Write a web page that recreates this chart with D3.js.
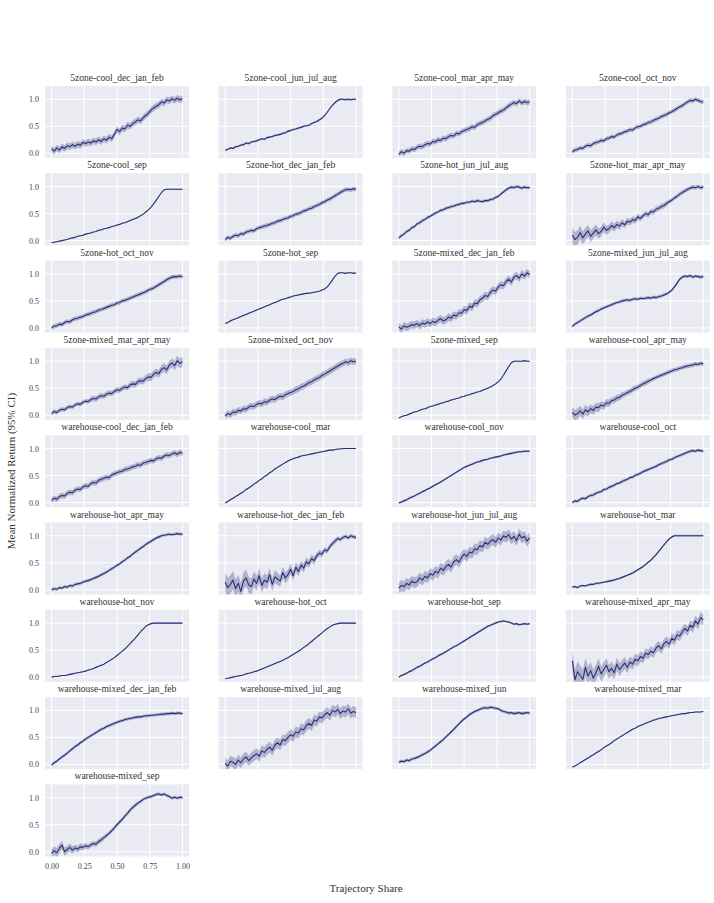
<!DOCTYPE html>
<html>
<head>
<meta charset="utf-8">
<script src="https://cdn.jsdelivr.net/npm/d3@7"></script>
<style>
body { margin: 0; background: #fff; }
text { font-family: "Liberation Serif", "DejaVu Serif", serif; }
</style>
</head>
<body>
<div id="chart"></div>
<script>
// panel titles in grid order (4 per row)
var panelNames = [
    "5zone-cool_dec_jan_feb", "5zone-cool_jun_jul_aug", "5zone-cool_mar_apr_may", "5zone-cool_oct_nov",
    "5zone-cool_sep", "5zone-hot_dec_jan_feb", "5zone-hot_jun_jul_aug", "5zone-hot_mar_apr_may",
    "5zone-hot_oct_nov", "5zone-hot_sep", "5zone-mixed_dec_jan_feb", "5zone-mixed_jun_jul_aug",
    "5zone-mixed_mar_apr_may", "5zone-mixed_oct_nov", "5zone-mixed_sep", "warehouse-cool_apr_may",
    "warehouse-cool_dec_jan_feb", "warehouse-cool_mar", "warehouse-cool_nov", "warehouse-cool_oct",
    "warehouse-hot_apr_may", "warehouse-hot_dec_jan_feb", "warehouse-hot_jun_jul_aug", "warehouse-hot_mar",
    "warehouse-hot_nov", "warehouse-hot_oct", "warehouse-hot_sep", "warehouse-mixed_apr_may",
    "warehouse-mixed_dec_jan_feb", "warehouse-mixed_jul_aug", "warehouse-mixed_jun", "warehouse-mixed_mar",
    "warehouse-mixed_sep"
];

// mean normalized return (x100), read at trajectory share 0, 0.02, ... 1.00
var meanReturns = [
    [8,4,10,6,12,9,14,12,16,13,17,15,20,18,21,19,23,21,25,22,27,24,30,27,35,44,40,47,45,52,50,55,58,62,60,66,70,74,80,84,87,90,95,93,99,97,101,98,102,99,101],
    [6,7,10,9,12,13,15,16,19,18,21,22,23,25,27,26,29,30,31,33,34,35,37,38,41,42,44,45,47,48,50,51,52,55,57,59,62,65,70,76,83,89,94,98,100,100,99,100,99,100,100],
    [-2,3,0,5,4,8,7,11,13,12,16,18,17,22,21,25,24,28,27,31,33,32,37,36,40,42,44,46,49,48,53,55,57,60,63,65,70,72,75,78,80,84,88,91,94,92,97,93,96,94,95],
    [3,6,7,10,9,13,15,14,18,20,21,24,23,27,28,31,30,34,36,37,40,41,44,43,47,49,50,53,54,57,58,61,63,65,68,70,72,75,77,80,83,86,88,92,95,98,97,100,98,96,95],
    [-4,-3,-2,-1,0,1,2,4,5,6,8,9,10,12,13,14,16,17,19,20,22,23,24,26,27,29,30,32,33,35,37,39,41,43,46,49,53,57,62,68,75,82,89,94,95,95,95,95,95,95,95],
    [2,6,4,8,10,9,13,12,16,17,19,18,22,24,25,27,28,30,32,33,36,37,39,41,42,45,46,49,50,52,55,56,59,60,63,65,67,70,72,75,77,80,83,86,89,92,94,95,94,96,95],
    [5,9,12,17,19,24,26,31,33,37,39,43,45,48,51,53,56,57,60,61,63,64,66,67,69,69,71,71,73,72,74,73,72,74,74,76,77,80,82,86,90,94,97,99,98,100,99,97,99,98,98],
    [10,2,6,15,5,12,18,8,14,20,13,17,25,19,22,28,24,30,27,33,29,36,34,39,37,44,41,46,50,48,54,53,58,60,63,65,69,72,75,79,82,86,89,92,95,97,99,98,100,98,99],
    [0,3,4,7,6,10,12,11,15,17,18,20,21,24,25,27,29,30,33,34,36,38,40,42,43,46,47,50,51,53,55,57,59,61,63,65,67,70,72,74,77,80,83,86,89,92,94,95,95,96,95],
    [8,10,13,15,17,19,21,23,25,27,29,31,33,35,37,39,41,43,45,47,49,51,53,54,56,57,59,60,61,62,63,64,64,65,66,67,68,70,72,76,82,89,96,101,102,102,101,102,102,101,102],
    [2,-2,4,1,3,6,5,8,4,9,7,11,8,12,10,14,17,13,15,20,18,24,22,28,27,34,32,40,38,46,45,52,55,60,58,66,70,68,76,80,78,86,90,85,94,97,92,100,96,102,99],
    [3,7,10,13,16,19,22,24,27,30,32,35,37,39,41,43,45,47,48,50,51,52,51,53,54,53,55,54,55,56,55,57,56,58,59,61,63,66,70,76,83,90,94,96,95,97,94,96,95,94,95],
    [3,7,5,9,11,10,14,16,15,19,21,20,24,26,25,29,31,30,34,36,35,39,41,40,44,47,46,50,52,51,56,58,57,62,64,63,68,71,70,76,79,77,85,88,84,93,97,92,101,96,99],
    [-1,3,1,6,5,9,8,12,11,15,17,16,20,22,21,25,24,28,30,29,33,35,34,38,40,42,44,47,49,52,54,57,60,62,65,68,70,74,76,79,82,85,88,91,94,96,99,97,101,99,100],
    [-5,-3,-1,0,2,4,6,7,9,11,12,14,16,17,19,20,22,23,25,26,28,29,31,32,34,35,37,38,40,41,43,44,46,48,50,52,55,58,62,67,74,82,90,97,100,100,100,100,101,100,100],
    [5,0,3,8,2,10,6,12,9,15,14,19,17,23,22,27,28,32,33,37,39,42,44,47,50,52,55,58,60,63,65,68,70,72,74,76,78,80,82,84,85,87,88,90,91,92,93,95,94,96,95],
    [4,8,6,11,13,12,17,19,18,23,25,24,29,31,30,35,37,36,41,43,45,47,46,51,53,55,57,58,61,62,64,66,67,70,69,73,74,76,78,77,81,83,82,86,88,87,90,92,89,93,91],
    [-1,2,5,8,11,14,17,20,24,27,30,34,37,41,44,48,51,55,58,62,65,68,71,74,77,79,81,83,84,86,87,88,89,90,91,92,93,94,95,96,97,97,98,99,99,100,100,100,100,100,100],
    [-1,1,3,5,8,10,12,15,17,20,22,25,27,30,33,35,38,41,44,47,50,53,56,59,62,65,67,69,71,73,75,76,78,79,80,82,83,84,85,86,88,89,90,91,92,93,94,94,95,95,95],
    [0,3,2,6,8,7,11,13,14,17,19,20,24,25,28,30,32,35,36,39,41,43,46,47,50,52,54,57,59,61,63,65,67,70,72,74,76,79,80,83,85,87,89,91,93,95,96,95,97,96,95],
    [0,2,1,4,3,6,5,8,7,10,11,12,14,16,17,19,21,23,25,28,30,33,36,39,42,45,48,52,55,59,62,66,70,73,77,80,84,87,90,93,96,98,100,101,102,103,102,103,104,103,103],
    [14,4,10,18,2,12,-3,16,22,9,6,20,12,26,8,18,14,28,10,24,20,16,32,22,28,38,26,42,34,46,40,52,48,58,54,63,68,66,74,72,80,86,90,95,93,97,99,96,100,98,97],
    [3,8,6,12,9,16,13,15,22,18,25,22,30,27,34,31,40,36,43,47,42,52,56,51,60,66,62,70,68,76,74,82,79,88,84,90,93,88,96,92,100,97,102,94,99,91,103,96,99,90,96],
    [5,6,4,7,8,7,9,10,10,12,12,13,14,15,16,17,18,20,21,23,25,27,29,31,34,37,40,43,47,51,55,60,65,71,77,83,89,94,98,100,100,100,100,100,100,100,100,100,100,100,100],
    [0,1,1,2,3,3,4,5,6,7,8,9,10,11,13,14,16,18,20,22,24,27,30,33,36,40,44,48,52,57,62,67,72,78,84,89,94,97,99,100,100,100,100,100,100,100,100,100,100,100,100],
    [-3,-2,-1,0,1,2,3,4,6,7,8,10,11,13,15,17,19,21,23,25,27,29,31,34,36,39,42,45,48,51,55,58,62,66,70,74,78,82,86,90,93,96,98,99,100,100,100,100,100,100,100],
    [0,3,5,7,10,12,15,18,20,23,26,28,31,34,36,39,42,44,47,50,53,56,58,61,64,67,70,73,76,79,82,85,88,91,94,96,98,100,102,103,104,103,102,100,98,99,97,98,99,98,99],
    [30,-5,10,3,-4,18,2,12,-2,8,20,6,14,22,10,16,8,24,14,20,26,18,28,24,33,30,38,35,44,42,48,45,54,58,52,62,66,61,72,68,78,76,84,90,85,96,92,104,98,110,106],
    [-1,3,6,10,14,17,21,25,29,33,36,40,43,47,50,53,56,59,62,65,67,70,72,74,76,78,80,81,83,84,85,86,87,88,88,89,90,90,91,91,92,92,93,93,94,94,95,94,95,95,94],
    [2,-3,6,4,0,8,3,10,14,7,12,16,20,15,25,22,28,32,26,36,40,36,46,44,50,55,52,60,58,66,64,72,76,72,82,80,88,86,92,96,91,100,97,102,94,99,97,103,95,98,96],
    [4,6,5,8,7,10,11,13,15,18,20,23,26,30,34,38,42,46,51,55,60,65,70,75,80,84,88,92,95,98,100,102,104,105,104,106,105,104,103,100,98,97,95,96,94,95,96,94,95,96,95],
    [-5,-3,0,3,6,9,12,15,18,21,24,27,31,34,37,40,44,47,50,53,56,59,62,65,67,70,72,74,76,78,80,82,83,85,86,87,88,89,90,91,92,93,94,94,95,96,96,97,97,97,98],
    [-3,2,-2,6,12,0,4,8,3,7,5,9,8,11,9,13,15,14,19,22,26,30,34,39,44,50,55,60,66,71,77,82,86,90,93,97,99,101,102,104,106,107,105,107,104,102,99,101,99,101,100]
];

// half width of the 95% CI (x100); a single number means constant along the curve
var ciHalf = [
    6, 2, 5, 4, 1, 4, 3,
    [14,14,13,13,12,12,11,11,10,10,9,9,9,8,8,8,7,7,7,7,6,6,6,6,6,6,5,5,5,5,5,5,5,5,5,5,5,4,4,4,4,4,4,4,4,4,4,4,4,4,4],
    4, 1, 7, 3,
    [4,4,4,4,4,4,4,4,4,4,4,4,4,4,4,5,5,5,5,5,5,5,5,5,5,5,5,5,5,5,6,6,6,6,6,6,6,7,7,7,7,7,8,8,8,8,8,9,9,9,9],
    6, 1,
    [10,10,10,9,9,9,9,8,8,8,8,7,7,7,7,6,6,6,6,6,5,5,5,5,5,5,5,5,5,5,4,4,4,4,4,4,4,4,4,4,4,4,4,4,4,4,4,4,4,4,4],
    5, 1, 2, 3, 3,
    [18,18,17,17,17,16,16,16,15,15,15,14,14,14,13,13,13,12,12,12,11,11,11,10,10,10,9,9,9,8,8,8,7,7,7,6,6,6,5,5,5,5,5,4,4,4,4,4,4,4,4],
    10, 2, 1, 1, 2,
    [20,19,19,18,18,17,17,16,16,15,15,14,14,13,13,13,12,12,12,11,11,11,10,10,10,10,10,9,9,9,9,9,9,9,9,9,9,9,9,9,9,9,9,9,9,9,10,10,10,10,10],
    3, 10, 3, 1,
    [8,8,9,9,8,8,7,7,7,6,6,6,6,5,5,5,5,5,5,5,4,4,4,4,4,4,4,4,4,4,4,4,4,3,3,3,3,3,3,3,3,3,3,3,3,3,3,3,3,3,3]
];

var xTicks = [0, 0.25, 0.5, 0.75, 1];
var yTicks = [0, 0.5, 1];

// trajectory share grid the means were read at
var shares = d3.range(51).map(i => i / 50);

var width = 714, height = 903;
var nCols = 4;
var panelW = 144, panelH = 72;
var leftStart = 45, colStep = 173.6;
var topStart = 86, rowStep = 87.3;
var lineColor = "#2a3078";
var tickColor = "#444";

var svg = d3.select("#chart").append("svg")
    .attr("width", width)
    .attr("height", height);

var xScale = d3.scaleLinear().domain([-0.05, 1.05]).range([0, panelW]);
var yScale = d3.scaleLinear().domain([-0.087, 1.246]).range([panelH, 0]);

svg.append("defs").append("clipPath").attr("id", "panelClip")
    .append("rect").attr("width", panelW).attr("height", panelH);

var line = d3.line()
    .x(d => xScale(d.x))
    .y(d => yScale(d.y));
var band = d3.area()
    .x(d => xScale(d.x))
    .y0(d => yScale(d.lo))
    .y1(d => yScale(d.hi));

panelNames.forEach(function(name, k) {
    var col = k % nCols, row = Math.floor(k / nCols);
    var g = svg.append("g")
        .attr("transform", `translate(${leftStart + col * colStep},${topStart + row * rowStep})`);

    g.append("rect")
        .attr("width", panelW).attr("height", panelH)
        .attr("fill", "#eaeaf2");

    // grid
    g.selectAll(".vgrid").data(xTicks).enter().append("line")
        .attr("x1", d => xScale(d)).attr("x2", d => xScale(d))
        .attr("y1", 0).attr("y2", panelH)
        .attr("stroke", "#fff").attr("stroke-width", 1);
    g.selectAll(".hgrid").data(yTicks).enter().append("line")
        .attr("y1", d => yScale(d)).attr("y2", d => yScale(d))
        .attr("x1", 0).attr("x2", panelW)
        .attr("stroke", "#fff").attr("stroke-width", 1);

    var ci = ciHalf[k];
    var pts = meanReturns[k].map(function(v, i) {
        var h = Array.isArray(ci) ? ci[i] : ci;
        return { x: shares[i], y: v / 100, lo: (v - h) / 100, hi: (v + h) / 100 };
    });

    var plot = g.append("g").attr("clip-path", "url(#panelClip)");
    plot.append("path").datum(pts)
        .attr("d", band)
        .attr("fill", lineColor).attr("fill-opacity", 0.3);
    plot.append("path").datum(pts)
        .attr("d", line)
        .attr("fill", "none")
        .attr("stroke", lineColor)
        .attr("stroke-width", 1.1)
        .attr("stroke-linejoin", "round");

    g.append("text")
        .attr("x", panelW / 2).attr("y", -5)
        .attr("text-anchor", "middle")
        .attr("font-size", "9.5px")
        .attr("fill", "#333")
        .text(name);

    if (col === 0) {
        var ya = g.append("g").attr("color", tickColor).call(d3.axisLeft(yScale)
            .tickValues(yTicks).tickFormat(d3.format(".1f"))
            .tickSize(0).tickPadding(6));
        ya.select(".domain").remove();
        ya.selectAll("text").style("font-size", "8px").style("fill", tickColor)
            .style("font-family", "'Liberation Serif', serif");
    }
    if (k === panelNames.length - 1) {
        var xa = g.append("g").attr("color", tickColor)
            .attr("transform", `translate(0,${panelH})`)
            .call(d3.axisBottom(xScale)
                .tickValues(xTicks).tickFormat(d3.format(".2f"))
                .tickSize(0).tickPadding(7));
        xa.select(".domain").remove();
        xa.selectAll("text").style("font-size", "8px").style("fill", tickColor)
            .style("font-family", "'Liberation Serif', serif");
    }
});

// shared axis labels
svg.append("text")
    .attr("x", 366).attr("y", 892)
    .attr("text-anchor", "middle")
    .attr("font-size", "11px").attr("fill", "#333")
    .text("Trajectory Share");
svg.append("text")
    .attr("transform", "translate(15,471) rotate(-90)")
    .attr("text-anchor", "middle")
    .attr("font-size", "11px").attr("fill", "#333")
    .text("Mean Normalized Return (95% CI)");
</script>
</body>
</html>
